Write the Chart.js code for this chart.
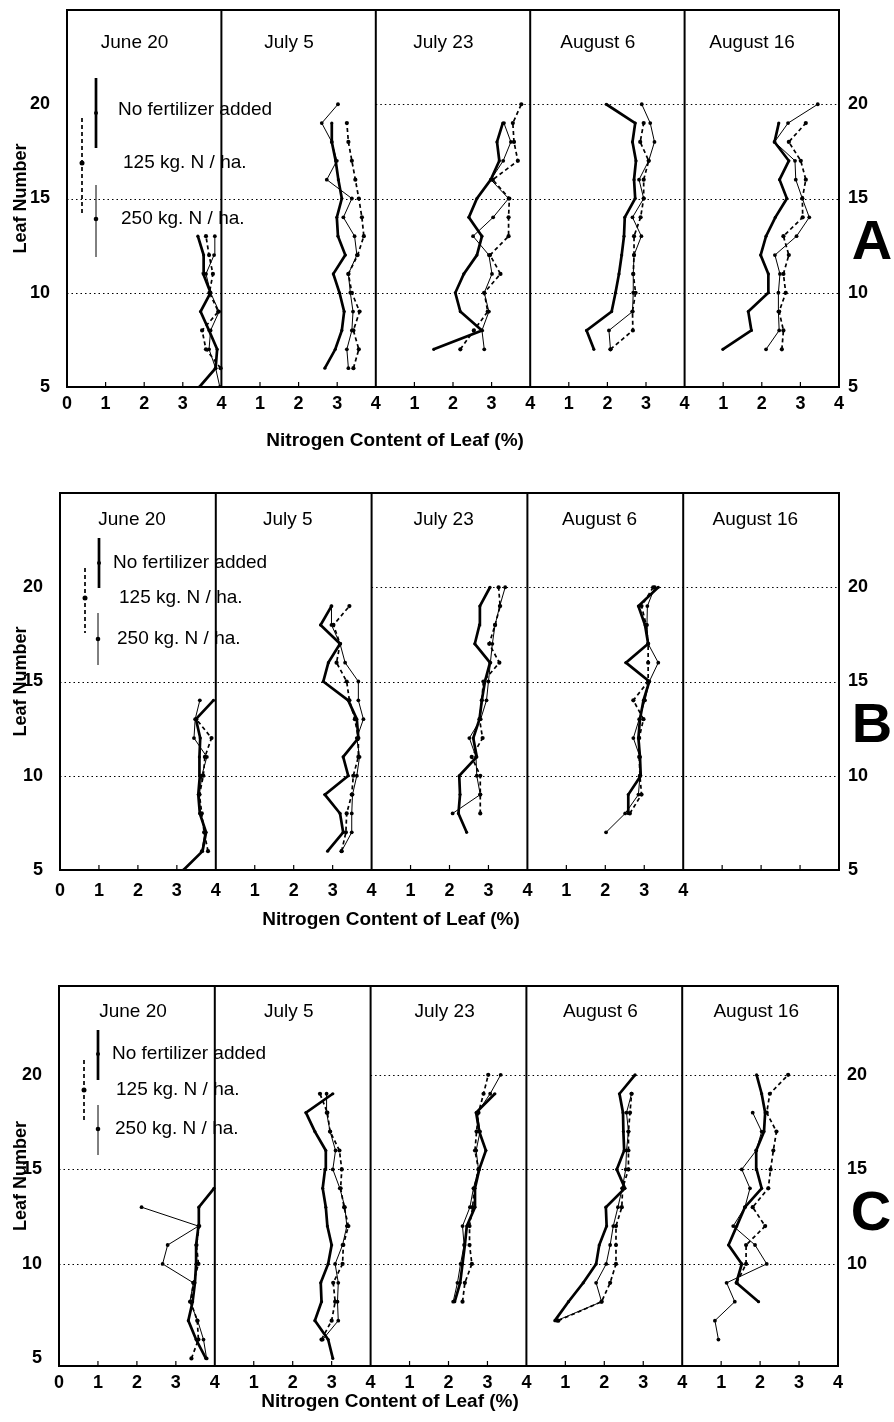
<!DOCTYPE html>
<html>
<head>
<meta charset="utf-8">
<script src="https://cdn.jsdelivr.net/npm/chart.js@4.4.1/dist/chart.umd.min.js"></script>
<style>
  html, body { margin: 0; padding: 0; background: #fff; }
  body { width: 894px; height: 1422px; position: relative; overflow: hidden; }
  .panel { position: absolute; left: 0; width: 894px; }
  canvas { display: block; }
</style>
</head>
<body>
<div class="panel" style="top:0px;height:470px"><canvas id="cA" width="894" height="470"></canvas></div>
<div class="panel" style="top:470px;height:480px"><canvas id="cB" width="894" height="480"></canvas></div>
<div class="panel" style="top:950px;height:472px"><canvas id="cC" width="894" height="472"></canvas></div>
<script>
const dates = ['June 20', 'July 5', 'July 23', 'August 6', 'August 16'];
const treatments = ['No fertilizer added', '125 kg. N / ha.', '250 kg. N / ha.'];
const leafTicks = [5, 10, 15, 20];
const nTicks = [0, 1, 2, 3, 4];   // repeated in every date window

// [leaf number, nitrogen %] for each date, June 20 .. August 16
const A_none = [
  [[5,3.43],[6,3.85],[7,3.89],[8,3.68],[9,3.46],[10,3.72],[11,3.53],[12,3.54],[13,3.39]],
  [[6,2.68],[7,2.95],[8,3.12],[9,3.18],[10,3.06],[11,2.9],[12,3.21],[13,3.02],[14,2.99],[15,3.12],[16,3.03],[17,2.96],[18,2.86],[19,2.86]],
  [[7,1.5],[8,2.75],[9,2.19],[10,2.06],[11,2.28],[12,2.62],[13,2.75],[14,2.41],[15,2.62],[16,2.98],[17,3.2],[18,3.14],[19,3.29]],
  [[7,1.65],[8,1.46],[9,2.11],[10,2.21],[11,2.3],[12,2.37],[13,2.43],[14,2.45],[15,2.72],[16,2.69],[17,2.74],[18,2.65],[19,2.72],[20,1.97]],
  [[7,0.99],[8,1.73],[9,1.65],[10,2.17],[11,2.17],[12,1.97],[13,2.11],[14,2.35],[15,2.65],[16,2.46],[17,2.7],[18,2.33],[19,2.44]]
];
const A_125 = [
  [[6,3.98],[7,3.6],[8,3.5],[9,3.92],[10,3.69],[11,3.78],[12,3.68],[13,3.6]],
  [[6,3.42],[7,3.56],[8,3.42],[9,3.58],[10,3.38],[11,3.29],[12,3.53],[13,3.69],[14,3.64],[15,3.56],[16,3.47],[17,3.38],[18,3.29],[19,3.25]],
  [[7,2.19],[8,2.54],[9,2.9],[10,2.81],[11,3.23],[12,2.96],[13,3.44],[14,3.44],[15,3.46],[16,3.03],[17,3.68],[18,3.58],[19,3.55],[20,3.77]],
  [[7,2.08],[8,2.66],[9,2.65],[10,2.73],[11,2.67],[12,2.69],[13,2.69],[14,2.86],[15,2.94],[16,2.94],[17,3.07],[18,2.85],[19,2.94]],
  [[7,2.52],[8,2.56],[9,2.45],[10,2.62],[11,2.56],[12,2.7],[13,2.56],[14,3.06],[15,3.05],[16,3.14],[17,3.01],[18,2.7],[19,3.14]]
];
const A_250 = [
  [[5,3.96],[6,3.85],[7,3.68],[8,3.72],[9,3.94],[10,3.72],[11,3.6],[12,3.81],[13,3.83]],
  [[6,3.29],[7,3.25],[8,3.38],[9,3.41],[10,3.34],[11,3.29],[12,3.51],[13,3.45],[14,3.16],[15,3.38],[16,2.73],[17,2.99],[18,2.86],[19,2.6],[20,3.02]],
  [[7,2.81],[8,2.75],[9,2.93],[10,2.81],[11,3.01],[12,2.93],[13,2.52],[14,3.04],[15,3.44],[16,2.98],[17,3.3],[18,3.5],[19,3.32]],
  [[7,2.08],[8,2.04],[9,2.65],[10,2.67],[11,2.67],[12,2.69],[13,2.88],[14,2.65],[15,2.94],[16,2.82],[17,3.07],[18,3.22],[19,3.11],[20,2.89]],
  [[7,2.11],[8,2.45],[9,2.43],[10,2.43],[11,2.47],[12,2.34],[13,2.9],[14,3.23],[15,3.05],[16,2.88],[17,2.86],[18,2.33],[19,2.68],[20,3.45]]
];

const B_none = [
  [[5,3.17],[6,3.66],[7,3.75],[8,3.59],[9,3.55],[10,3.59],[11,3.58],[12,3.6],[13,3.49],[14,3.94]],
  [[6,2.87],[7,3.27],[8,3.19],[9,2.8],[10,3.4],[11,3.27],[12,3.66],[13,3.62],[14,3.4],[15,2.76],[16,2.89],[17,3.19],[18,2.69],[19,2.97]],
  [[7,2.44],[8,2.23],[9,2.27],[10,2.25],[11,2.7],[12,2.61],[13,2.77],[14,2.83],[15,2.91],[16,3.04],[17,2.65],[18,2.77],[19,2.78],[20,3.04]],
  [[8,2.6],[9,2.59],[10,2.91],[11,2.89],[12,2.85],[13,2.89],[14,2.98],[15,3.13],[16,2.53],[17,3.1],[18,3.02],[19,2.85],[20,3.36]],
  []
];
const B_125 = [
  [[6,3.8],[7,3.7],[8,3.64],[9,3.58],[10,3.68],[11,3.72],[12,3.89],[13,3.5]],
  [[6,3.23],[7,3.34],[8,3.36],[9,3.49],[10,3.53],[11,3.66],[12,3.66],[13,3.57],[14,3.43],[15,3.36],[16,3.1],[17,3.19],[18,3.02],[19,3.43]],
  [[8,2.79],[9,2.79],[10,2.79],[11,2.57],[12,2.85],[13,2.77],[14,2.83],[15,2.87],[16,3.28],[17,3.02],[18,3.17],[19,3.3],[20,3.26]],
  [[8,2.63],[9,2.93],[10,2.89],[11,2.87],[12,2.87],[13,2.98],[14,2.72],[15,3.1],[16,3.1],[17,3.1],[18,3.05],[19,2.93],[20,3.23]],
  []
];
const B_250 = [
  [[6,3.64],[7,3.72],[8,3.6],[9,3.58],[10,3.64],[11,3.77],[12,3.44],[13,3.47],[14,3.59]],
  [[6,3.23],[7,3.49],[8,3.49],[9,3.51],[10,3.62],[11,3.69],[12,3.62],[13,3.79],[14,3.66],[15,3.66],[16,3.32],[17,3.19],[18,2.97],[19,2.97]],
  [[8,2.08],[9,2.79],[10,2.7],[11,2.68],[12,2.51],[13,2.8],[14,2.95],[15,3.0],[16,3.05],[17,3.1],[18,3.17],[19,3.29],[20,3.43]],
  [[7,2.02],[8,2.51],[9,2.85],[10,2.89],[11,2.89],[12,2.72],[13,2.87],[14,3.02],[15,3.13],[16,3.36],[17,3.1],[18,3.07],[19,3.08],[20,3.27]],
  []
];

const C_none = [
  [[5,3.77],[6,3.52],[7,3.32],[8,3.43],[9,3.49],[10,3.52],[11,3.52],[12,3.58],[13,3.59],[14,3.98]],
  [[5,3.03],[6,2.91],[7,2.57],[8,2.74],[9,2.72],[10,2.91],[11,3.0],[12,2.89],[13,2.85],[14,2.77],[15,2.83],[16,2.85],[17,2.57],[18,2.34],[19,3.03]],
  [[8,2.16],[9,2.3],[10,2.36],[11,2.42],[12,2.47],[13,2.68],[14,2.68],[15,2.79],[16,2.96],[17,2.79],[18,2.71],[19,3.19]],
  [[7,0.73],[8,1.08],[9,1.46],[10,1.79],[11,1.87],[12,2.06],[13,2.04],[14,2.53],[15,2.32],[16,2.51],[17,2.49],[18,2.48],[19,2.39],[20,2.79]],
  [[8,1.96],[9,1.39],[10,1.53],[11,1.19],[12,1.4],[13,1.61],[14,2.04],[15,1.91],[16,1.9],[17,2.1],[18,2.13],[19,2.04],[20,1.91]]
];
const C_125 = [
  [[5,3.4],[6,3.58],[7,3.55],[8,3.38],[9,3.45],[10,3.58],[11,3.53],[12,3.6]],
  [[6,2.74],[7,3.0],[8,3.09],[9,3.04],[10,3.28],[11,3.3],[12,3.43],[13,3.32],[14,3.23],[15,3.26],[16,3.2],[17,2.96],[18,2.89],[19,2.7]],
  [[8,2.36],[9,2.42],[10,2.6],[11,2.54],[12,2.54],[13,2.62],[14,2.66],[15,2.77],[16,2.68],[17,2.72],[18,2.77],[19,2.9],[20,3.02]],
  [[7,0.82],[8,1.93],[9,2.15],[10,2.3],[11,2.3],[12,2.3],[13,2.45],[14,2.47],[15,2.62],[16,2.62],[17,2.62],[18,2.66],[19,2.7]],
  [[9,1.4],[10,1.64],[11,1.64],[12,2.13],[13,1.81],[14,2.21],[15,2.27],[16,2.34],[17,2.42],[18,2.17],[19,2.25],[20,2.72]]
];
const C_250 = [
  [[5,3.79],[6,3.71],[7,3.56],[8,3.36],[9,3.45],[10,2.66],[11,2.79],[12,3.58],[13,2.12]],
  [[6,2.77],[7,3.17],[8,3.15],[9,3.17],[10,3.09],[11,3.28],[12,3.39],[13,3.34],[14,3.21],[15,3.03],[16,3.1],[17,2.96],[18,2.87],[19,2.87]],
  [[8,2.12],[9,2.23],[10,2.31],[11,2.4],[12,2.36],[13,2.55],[14,2.64],[15,2.77],[16,2.71],[17,2.81],[18,2.74],[19,3.07],[20,3.34]],
  [[7,0.78],[8,1.93],[9,1.79],[10,2.05],[11,2.15],[12,2.23],[13,2.35],[14,2.46],[15,2.55],[16,2.57],[17,2.62],[18,2.57],[19,2.7]],
  [[6,0.93],[7,0.84],[8,1.35],[9,1.14],[10,2.17],[11,1.87],[12,1.31],[13,1.61],[14,1.74],[15,1.53],[16,1.9],[17,2.04],[18,1.81]]
];

const FONT = '"Liberation Sans", Arial, Helvetica, sans-serif';
Chart.defaults.font.family = FONT;
Chart.defaults.color = '#000';

const lineStyles = [
  { borderWidth: 2.7, borderDash: [], pointRadius: 1.6 },
  { borderWidth: 1.7, borderDash: [4, 3], pointRadius: 2.1 },
  { borderWidth: 1, borderDash: [], pointRadius: 1.9 }
];

// dotted reference lines: leaf value and where (x) they start
const refLines = [ { leaf: 10, from: 0 }, { leaf: 15, from: 0 }, { leaf: 20, from: 8 } ];

const panels = [
  { id: 'cA', letter: 'A', series: [A_none, A_125, A_250], h: 470,
    box: { left: 67, right: 839, top: 10, bottom: 387 }, yMin: 5, yMax: 25,
    lastLabel: 20, rightTicks: [5, 10, 15, 20], xPad: 6, titleDy: 54, dateDy: 33, dateX: 1.75,
    legend: [[29, 68, 138, 103, 51, 100], [15, 108, 203, 153, 56, 153], [29, 175, 247, 209, 54, 209]] },
  { id: 'cB', letter: 'B', series: [B_none, B_125, B_250], h: 480,
    box: { left: 60, right: 839, top: 23, bottom: 400 }, yMin: 5, yMax: 25,
    lastLabel: 16, rightTicks: [5, 10, 15, 20], xPad: 10, titleDy: 50, dateDy: 27, dateX: 1.85,
    legend: [[39, 45, 95, 70, 53, 70], [25, 75, 140, 105, 59, 105], [38, 120, 172, 146, 57, 146]] },
  { id: 'cC', letter: 'C', series: [C_none, C_125, C_250], h: 472,
    box: { left: 59, right: 838, top: 36, bottom: 416 }, yMin: 4.6, yMax: 24.7,
    lastLabel: 20, rightTicks: [10, 15, 20], xPad: 6, titleDy: 36, dateDy: 26, dateX: 1.9,
    legend: [[39, 44, 94, 68, 53, 68], [25, 74, 137, 104, 57, 104], [39, 119, 169, 143, 56, 143]] }
];

function buildSets(series) {
  const sets = [];
  series.forEach((byDate, k) => {
    byDate.forEach((pts, d) => {
      if (!pts.length) return;
      sets.push({
        label: treatments[k] + ' ' + dates[d],
        data: pts.map(([leaf, n]) => ({ x: d * nTicks[4] + n, y: leaf })),
        borderColor: '#000',
        backgroundColor: '#000',
        pointBackgroundColor: '#000',
        pointBorderWidth: 0,
        pointHoverRadius: 0,
        tension: 0,
        fill: false,
        ...lineStyles[k]
      });
    });
  });
  return sets;
}

function xLabel(v) {
  if (v === 0) return '0';
  return String(nTicks[((v - 1) % 4) + 1]);
}

// keep the plot box exactly where it is in the picture
function noPad(s) {
  s.paddingTop = 0; s.paddingBottom = 0; s.paddingLeft = 0; s.paddingRight = 0;
}

function makeFrame(p) {
  return {
    id: 'frame' + p.letter,
    beforeDatasetsDraw(chart) {
      const { ctx, chartArea: a, scales: { x, y } } = chart;
      ctx.save();
      ctx.strokeStyle = '#000';
      ctx.fillStyle = '#000';

      // legend samples and text
      ctx.font = '19px ' + FONT;
      ctx.textAlign = 'left';
      ctx.textBaseline = 'middle';
      p.legend.forEach(([lx, y1, y2, dy, tx, ty], k) => {
        const st = lineStyles[k];
        ctx.lineWidth = st.borderWidth;
        ctx.setLineDash(st.borderDash);
        ctx.beginPath();
        ctx.moveTo(a.left + lx, a.top + y1);
        ctx.lineTo(a.left + lx, a.top + y2);
        ctx.stroke();
        ctx.setLineDash([]);
        ctx.beginPath();
        ctx.arc(a.left + lx, a.top + dy, st.pointRadius + 0.4, 0, Math.PI * 2);
        ctx.fill();
        ctx.fillText(treatments[k], a.left + tx, a.top + ty);
      });

      // dotted reference lines
      ctx.lineWidth = 1;
      ctx.setLineDash([1.5, 3]);
      refLines.forEach(r => {
        const py = Math.round(y.getPixelForValue(r.leaf)) + 0.5;
        ctx.beginPath();
        ctx.moveTo(x.getPixelForValue(r.from), py);
        ctx.lineTo(a.right, py);
        ctx.stroke();
      });
      ctx.setLineDash([]);

      // small inward ticks along the bottom
      ctx.lineWidth = 1.2;
      for (let v = 1; v < 20; v++) {
        if (v % 4 === 0) continue;
        const px = x.getPixelForValue(v);
        ctx.beginPath();
        ctx.moveTo(px, a.bottom);
        ctx.lineTo(px, a.bottom - 5);
        ctx.stroke();
      }

      // date separators and frame
      ctx.lineWidth = 2;
      for (let d = 1; d < dates.length; d++) {
        const px = x.getPixelForValue(d * 4);
        ctx.beginPath();
        ctx.moveTo(px, a.top);
        ctx.lineTo(px, a.bottom);
        ctx.stroke();
      }
      ctx.strokeRect(a.left, a.top, a.right - a.left, a.bottom - a.top);

      // date labels
      ctx.font = '19px ' + FONT;
      ctx.textAlign = 'center';
      dates.forEach((t, d) => ctx.fillText(t, x.getPixelForValue(d * 4 + p.dateX), a.top + p.dateDy));

      // x axis title
      ctx.font = 'bold 19px ' + FONT;
      ctx.fillText('Nitrogen Content of Leaf (%)', x.getPixelForValue(8.5), a.bottom + p.titleDy);

      // panel letter
      ctx.font = 'bold 56px ' + FONT;
      ctx.fillText(p.letter, a.right + 33, y.getPixelForValue(12.6));
      ctx.restore();
    }
  };
}

panels.forEach(p => {
  const b = p.box;
  new Chart(document.getElementById(p.id), {
    type: 'line',
    data: { datasets: buildSets(p.series) },
    options: {
      responsive: false,
      animation: false,
      devicePixelRatio: 1,
      layout: { padding: { top: b.top, left: 0, right: 0, bottom: 0 } },
      plugins: { legend: { display: false }, tooltip: { enabled: false } },
      scales: {
        x: {
          type: 'linear', min: 0, max: 20,
          afterFit: s => { s.height = p.h - b.bottom; noPad(s); },
          afterBuildTicks: s => { s.ticks = []; for (let v = 0; v <= p.lastLabel; v++) s.ticks.push({ value: v }); },
          grid: { display: false, drawTicks: false },
          border: { display: false },
          ticks: { callback: v => xLabel(v), padding: p.xPad, maxRotation: 0, autoSkip: false,
                   font: { size: 18, weight: 'bold' } }
        },
        y: {
          type: 'linear', position: 'left', min: p.yMin, max: p.yMax,
          afterFit: s => { s.width = b.left; noPad(s); },
          afterBuildTicks: s => { s.ticks = leafTicks.map(v => ({ value: v })); },
          grid: { display: false, drawTicks: false },
          border: { display: false },
          ticks: { padding: 17, font: { size: 18, weight: 'bold' } },
          title: { display: true, text: 'Leaf Number', padding: { top: 10 }, font: { size: 18, weight: 'bold' } }
        },
        y2: {
          type: 'linear', position: 'right', min: p.yMin, max: p.yMax,
          afterFit: s => { s.width = 894 - b.right; noPad(s); },
          afterBuildTicks: s => { s.ticks = p.rightTicks.map(v => ({ value: v })); },
          grid: { display: false, drawTicks: false },
          border: { display: false },
          ticks: { padding: 9, font: { size: 18, weight: 'bold' } }
        }
      }
    },
    plugins: [makeFrame(p)]
  });
});
</script>
</body>
</html>
